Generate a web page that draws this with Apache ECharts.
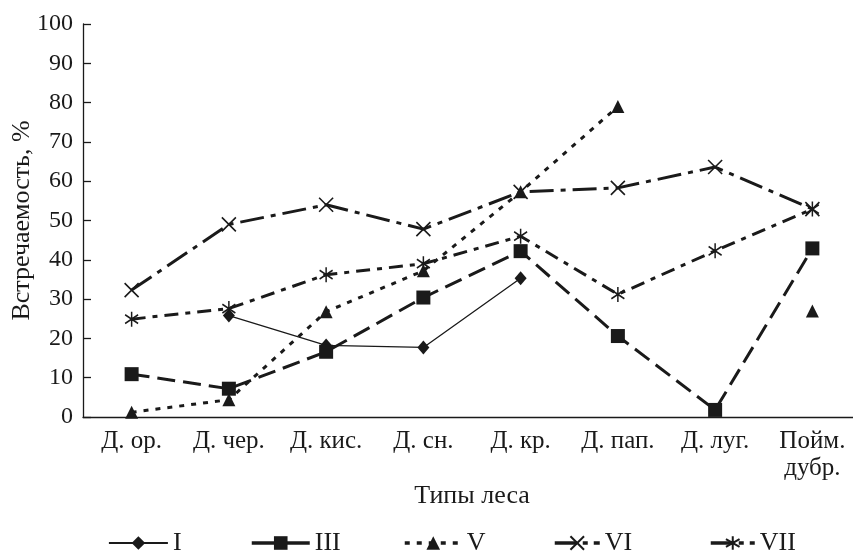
<!DOCTYPE html>
<html>
<head>
<meta charset="utf-8">
<script src="https://cdn.jsdelivr.net/npm/echarts@6/dist/echarts.min.js"></script>
<style>html,body{margin:0;padding:0;background:#fff}#c{width:853px;height:553px}</style>
</head>
<body>
<div id="c"></div>
<script>
const categories = ['Д. ор.', 'Д. чер.', 'Д. кис.', 'Д. сн.', 'Д. кр.', 'Д. пап.', 'Д. луг.', 'Пойм.\nдубр.'];
const yTicks = [0, 10, 20, 30, 40, 50, 60, 70, 80, 90, 100];
const seriesI   = [null, 25.8, 18.2, 17.7, 35.3, null, null, null];
const seriesIII = [10.9, 7.2, 16.6, 30.4, 42.2, 20.6, 1.8, 42.9];
const seriesV   = [1.2, 4.4, 26.8, 37.2, 57.3, 79.0, null, 27.0];
const seriesVI  = [32.3, 49.0, 54.0, 47.8, 57.3, 58.3, 63.6, 52.9];
const seriesVII = [24.9, 27.6, 36.2, 39.0, 46.0, 31.2, 42.3, 52.9];
const names = ['I', 'III', 'V', 'VI', 'VII'];

const FONT = 'Liberation Serif';
const INK = '#1a1a1a';
const X_PATH = 'path://M0,0L10,10M10,0L0,10';
const AST_PATH = 'path://M5,0L5,12M0.5,2.5L9.5,9.5M9.5,2.5L0.5,9.5';

function mk(name, data, dash, width, symbol, size, stroke) {
  return {
    name: name, type: 'line', data: data, connectNulls: false,
    symbol: symbol, symbolSize: size, showSymbol: true,
    lineStyle: {color: INK, width: width, type: dash},
    itemStyle: stroke ? {color: 'rgba(0,0,0,0)', borderColor: INK, borderWidth: 1.6}
                      : {color: INK, borderColor: INK, borderWidth: 0},
    emphasis: {disabled: true},
    z: 2
  };
}

const chart = echarts.init(document.getElementById('c'), null, {renderer: 'canvas'});
const legendPos = [[108, 59], [250, 58], [403, 57], [553, 45], [709, 44]];
const legendLine = [
  {type: 'solid', width: 1.8},
  {type: 'solid', width: 3.5},
  {type: [5, 7], width: 3.5},
  {type: [22, 6, 5, 6], width: 3.5},
  {type: [22, 6, 5, 6], width: 3.5}
];
chart.setOption({
  animation: false,
  backgroundColor: '#fff',
  textStyle: {fontFamily: FONT},
  grid: {left: 83, top: 24, width: 778, height: 393, containLabel: false, outerBoundsMode: 'none'},
  legend: names.map((n, i) => ({
    data: [{name: n, lineStyle: legendLine[i]}], left: legendPos[i][0], top: 530, padding: 0,
    itemWidth: legendPos[i][1], itemHeight: 17, itemGap: 0,
    textStyle: {fontFamily: FONT, fontSize: 26, color: INK},
    selectedMode: false
  })),
  xAxis: {
    type: 'category', data: categories, boundaryGap: true,
    name: 'Типы леса', nameLocation: 'middle', nameGap: 66, nameMoveOverlap: false,
    nameTextStyle: {fontFamily: FONT, fontSize: 26, color: INK},
    axisLine: {lineStyle: {color: INK, width: 1.3}},
    axisTick: {inside: true, length: 8, lineStyle: {color: INK, width: 1.3}},
    axisLabel: {fontFamily: FONT, fontSize: 25, color: INK, margin: 11, lineHeight: 27, interval: 0},
    splitLine: {show: false}
  },
  yAxis: {
    type: 'value', min: yTicks[0], max: yTicks[yTicks.length - 1], interval: 10,
    name: 'Встречаемость, %', nameLocation: 'middle', nameGap: 48, nameMoveOverlap: false,
    nameTextStyle: {fontFamily: FONT, fontSize: 26, color: INK},
    axisLine: {show: true, lineStyle: {color: INK, width: 1.3}},
    axisTick: {show: true, inside: true, length: 8, lineStyle: {color: INK, width: 1.3}},
    axisLabel: {fontFamily: FONT, fontSize: 24, color: INK, margin: 10},
    splitLine: {show: false}
  },
  series: [
    mk('I', seriesI, 'solid', 1.3, 'diamond', [12, 14], false),
    mk('III', seriesIII, [18, 8], 3, 'rect', 14, false),
    mk('V', seriesV, [5, 7], 3, 'triangle', [13, 13], false),
    mk('VI', seriesVI, [24, 7, 5, 7], 3, X_PATH, 14, true),
    mk('VII', seriesVII, [14, 7, 5, 7], 3, AST_PATH, [13, 15], true)
  ]
});
</script>
</body>
</html>
